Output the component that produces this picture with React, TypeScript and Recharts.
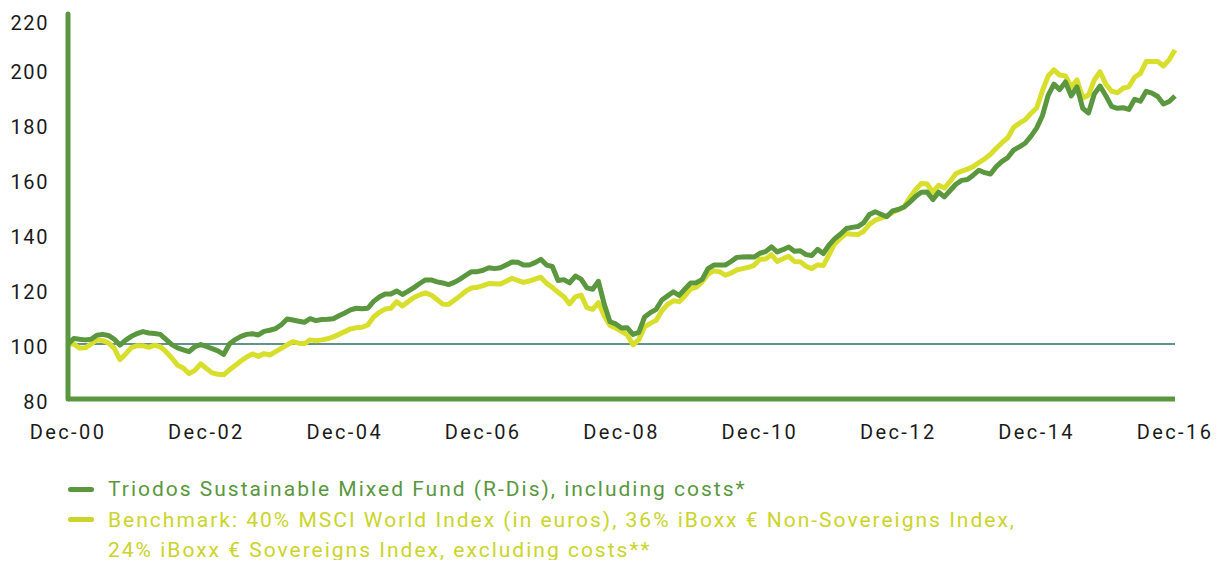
import { LineChart, Line, XAxis, YAxis, ReferenceLine } from "recharts";

const monthNames = ["Jan", "Feb", "Mar", "Apr", "May", "Jun", "Jul", "Aug", "Sep", "Oct", "Nov", "Dec"];

// monthly points, Dec-00 .. Dec-16
const months = Array.from({ length: 193 }, (_, i) => {
  const t = 11 + i;
  return `${monthNames[t % 12]}-${String(Math.floor(t / 12)).padStart(2, "0")}`;
});

const tickLabels = ["Dec-00", "Dec-02", "Dec-04", "Dec-06", "Dec-08", "Dec-10", "Dec-12", "Dec-14", "Dec-16"];
const yTicks = [80, 100, 120, 140, 160, 180, 200, 220];

const fundValues = [
  100.0, 102.0, 101.7, 101.5, 101.7, 103.2, 103.5, 103.1, 101.8, 99.6, 101.4, 102.8, 103.8,
  104.5, 104.0, 103.8, 103.5, 101.7, 99.8, 98.6, 97.9, 97.2, 99.0, 99.8, 99.1,
  98.3, 97.5, 96.2, 100.0, 101.6, 102.8, 103.5, 103.7, 103.3, 104.6, 105.0, 105.6,
  107.0, 109.1, 108.7, 108.3, 107.9, 109.2, 108.5, 108.9, 109.0, 109.2, 110.3, 111.3,
  112.4, 113.0, 112.8, 113.0, 115.5, 117.1, 118.2, 118.2, 119.3, 118.0, 119.2, 120.5,
  122.0, 123.3, 123.3, 122.6, 122.2, 121.6, 122.4, 123.6, 125.0, 126.3, 126.3, 126.8,
  127.7, 127.4, 127.7, 128.7, 129.8, 129.7, 128.7, 128.7, 129.6, 130.8, 128.7, 128.2,
  123.1, 123.4, 122.2, 124.7, 123.6, 120.4, 119.9, 122.8, 114.5, 108.1, 107.3, 105.8,
  105.9, 103.5, 104.2, 109.8, 111.4, 112.6, 116.0, 117.5, 119.0, 117.7, 120.0, 122.2,
  122.3, 123.5, 127.4, 128.7, 128.7, 128.7, 130.0, 131.5, 131.6, 131.7, 131.6, 133.0,
  133.6, 135.3, 133.5, 134.3, 135.3, 133.7, 133.9, 132.5, 132.2, 134.4, 132.9, 136.0,
  138.3, 140.0, 142.0, 142.4, 142.7, 144.1, 147.1, 148.1, 147.2, 146.3, 148.4, 148.9,
  149.8, 151.6, 153.6, 155.2, 155.3, 152.5, 155.2, 153.5, 155.8, 158.1, 159.5, 159.8,
  161.4, 163.2, 162.3, 161.8, 164.5, 166.4, 167.8, 170.5, 171.7, 173.0, 175.5, 178.5,
  183.0, 190.4, 194.5, 192.5, 195.3, 190.2, 193.5, 185.7, 184.0, 190.9, 193.8, 190.3,
  186.4, 185.7, 185.9, 185.3, 189.0, 188.3, 191.9, 191.2, 190.0, 187.3, 188.2, 190.2,
];

const benchmarkValues = [
  100.0, 100.0, 98.5, 98.6, 100.0, 101.5, 101.2, 100.4, 98.5, 94.3, 96.4, 98.7, 99.4,
  99.4, 98.8, 99.6, 99.0, 97.2, 94.9, 92.3, 91.3, 89.2, 90.4, 92.8, 91.1,
  89.5, 89.0, 88.8, 90.6, 92.2, 93.8, 95.3, 96.4, 95.5, 96.5, 96.0, 97.2,
  98.4, 99.7, 100.8, 100.3, 100.1, 101.5, 101.2, 101.5, 101.9, 102.6, 103.5, 104.5,
  105.5, 105.9, 106.1, 106.9, 109.8, 111.5, 112.7, 113.0, 115.4, 113.8, 115.4, 116.9,
  117.9, 118.6, 117.8, 116.2, 114.5, 114.4, 115.9, 117.5, 119.2, 120.4, 120.6, 121.2,
  122.0, 121.9, 121.8, 122.8, 123.9, 123.1, 122.4, 122.9, 123.6, 124.3, 122.1, 120.6,
  118.8, 117.2, 114.6, 117.1, 117.8, 113.2, 112.6, 115.0, 110.3, 106.7, 105.8, 104.6,
  103.3, 99.7, 101.6, 106.2, 107.5, 108.6, 112.1, 114.4, 115.7, 115.4, 117.5, 120.0,
  120.7, 122.6, 125.4, 126.6, 126.3, 125.0, 125.8, 126.9, 127.4, 127.9, 128.6, 130.8,
  130.9, 132.5, 130.0, 131.0, 131.9, 130.0, 129.9, 128.3, 127.4, 128.8, 128.5, 132.5,
  136.5, 138.5, 140.2, 139.9, 139.8, 141.0, 143.5, 145.0, 145.8, 146.5, 147.8, 148.8,
  149.8, 153.3, 156.1, 158.4, 158.2, 155.2, 157.7, 156.7, 159.1, 161.9, 162.9, 163.6,
  164.5, 166.0, 167.3, 169.0, 171.2, 173.2, 175.0, 178.7, 180.3, 181.5, 183.8, 185.8,
  192.0, 197.5, 199.7, 197.8, 197.5, 193.5, 196.0, 189.5, 190.5, 196.0, 199.0, 194.5,
  191.9, 191.4, 193.0, 193.6, 197.0, 198.4, 202.7, 202.7, 202.7, 201.1, 203.4, 206.9,
];

const GREEN = "#5a973f";
const YELLOW = "#d8de2c";
const YELLOW_TEXT = "#cad42b";

const data = months.map((month, i) => ({
  month,
  fund: fundValues[i],
  benchmark: benchmarkValues[i],
}));

const xTickStyle = { fill: "#1a1a1a", fontSize: 20, letterSpacing: 2.4 };
const yTickStyle = { fill: "#1a1a1a", fontSize: 20, letterSpacing: 1.6, dy: 3 };

function LegendRow({ color, text, marker }: { color: string; text: string; marker: boolean }) {
  return (
    <div style={{ display: "flex", alignItems: "center", height: 30.5, whiteSpace: "nowrap" }}>
      <span
        style={{
          display: "inline-block",
          flex: "none",
          width: 26,
          height: 5,
          borderRadius: 3,
          background: marker ? color : "transparent",
          marginRight: 14,
        }}
      />
      <span style={{ color }}>{text}</span>
    </div>
  );
}

export default function App() {
  return (
    <div style={{ width: 1209, height: 552, fontFamily: "Roboto, sans-serif", position: "relative" }}>
      <LineChart width={1209} height={440} data={data} margin={{ top: 6, right: 42, bottom: 19, left: 0 }}>
        <XAxis
          dataKey="month"
          ticks={tickLabels}
          interval={0}
          height={30}
          axisLine={{ stroke: GREEN, strokeWidth: 5 }}
          tickLine={false}
          tickSize={0}
          tickMargin={26}
          tick={xTickStyle}
        />
        <YAxis
          type="number"
          domain={[80, 220]}
          ticks={yTicks}
          width={60}
          axisLine={{ stroke: GREEN, strokeWidth: 5, strokeLinecap: "round" }}
          tickLine={false}
          tickSize={0}
          tickMargin={19}
          tick={yTickStyle}
        />
        <ReferenceLine y={100} stroke="#2f6e5e" strokeWidth={1.3} />
        <Line
          dataKey="benchmark"
          stroke={YELLOW}
          strokeWidth={5}
          dot={false}
          strokeLinejoin="round"
          isAnimationActive={false}
        />
        <Line
          dataKey="fund"
          stroke={GREEN}
          strokeWidth={5}
          dot={false}
          strokeLinejoin="round"
          isAnimationActive={false}
        />
      </LineChart>
      <div style={{ position: "absolute", left: 60, top: 466, fontSize: 21, letterSpacing: 2 }}>
        <LegendRow color={GREEN} marker text="Triodos Sustainable Mixed Fund (R-Dis), including costs*" />
        <LegendRow
          color={YELLOW_TEXT}
          marker
          text="Benchmark: 40% MSCI World Index (in euros), 36% iBoxx € Non-Sovereigns Index,"
        />
        <LegendRow color={YELLOW_TEXT} marker={false} text="24% iBoxx € Sovereigns Index, excluding costs**" />
      </div>
    </div>
  );
}
